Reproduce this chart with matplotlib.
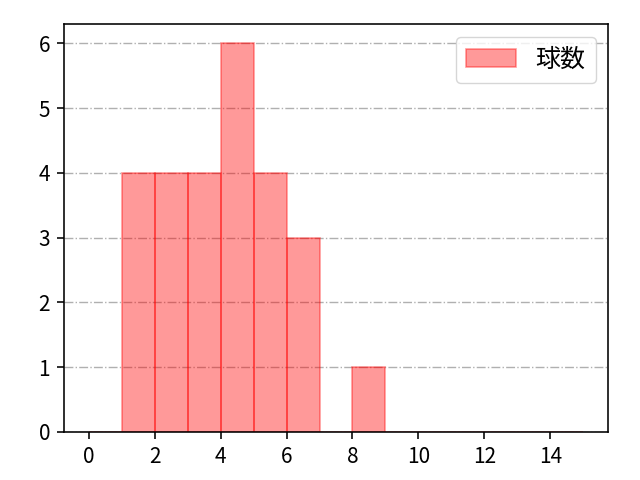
import numpy as np
import matplotlib.pyplot as plt

plt.rcParams['font.family'] = ['Noto Sans CJK JP', 'DejaVu Sans']
plt.rcParams['font.size'] = 15
plt.rcParams['axes.linewidth'] = 1.15
plt.rcParams['xtick.major.width'] = 1.15
plt.rcParams['ytick.major.width'] = 1.15
plt.rcParams['xtick.major.size'] = 5
plt.rcParams['ytick.major.size'] = 5
plt.rcParams['xtick.major.pad'] = 5
plt.rcParams['ytick.major.pad'] = 5

# pitches per bin (bin width 1, from 0 to 15)
bin_edges = list(range(0, 16))
counts = [0, 4, 4, 4, 6, 4, 3, 0, 1, 0, 0, 0, 0, 0, 0]
xticks = [0, 2, 4, 6, 8, 10, 12, 14]

fig, ax = plt.subplots(figsize=(6.4, 4.8), dpi=100)
fig.subplots_adjust(left=0.1, right=0.95, bottom=0.1, top=0.95)
ax.hist(bin_edges[:-1], bins=bin_edges, weights=counts,
        color='red', edgecolor='red', alpha=0.4, linewidth=1.2, label='球数')
ax.set_xticks(xticks)
ax.grid(axis='y', linestyle='-.', color='#b0b0b0', linewidth=1.0)
ax.set_axisbelow(True)
ax.legend(loc='upper right', fontsize=18)
plt.savefig('out.png')
